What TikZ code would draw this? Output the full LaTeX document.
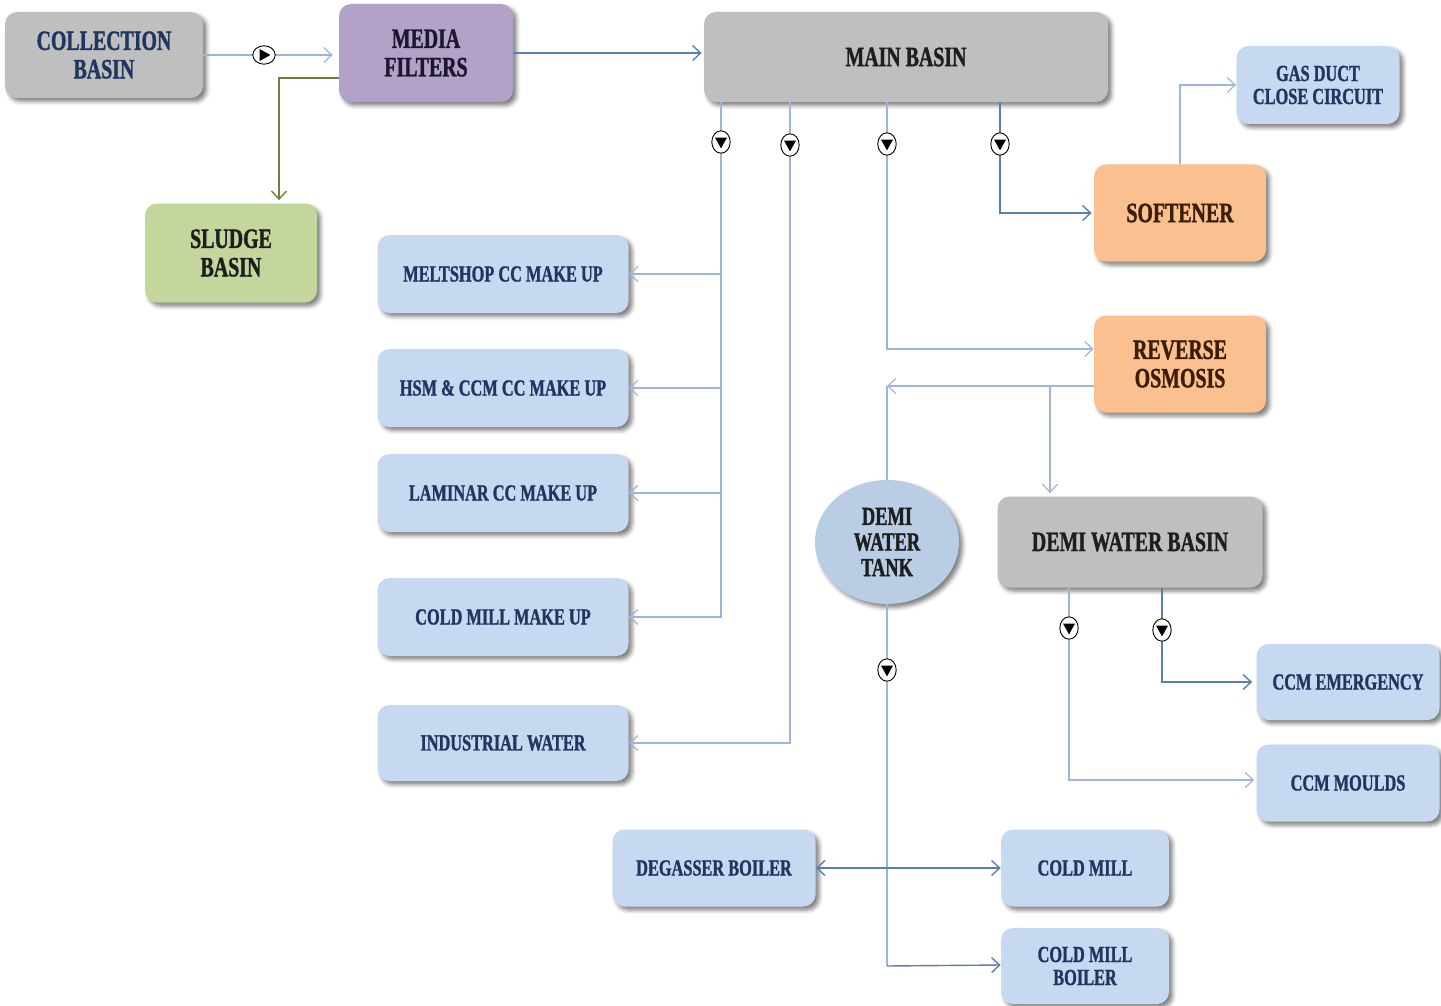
\documentclass[tikz,border=0pt]{standalone}
\usepackage{fontspec}
\setmainfont{Liberation Serif Bold}[FakeStretch=0.71, FakeBold=1.2]
\usetikzlibrary{arrows.meta,shadows.blur,shapes.geometric}
\definecolor{cgray}{HTML}{BFBFBF}
\definecolor{cpurple}{HTML}{B3A2C7}
\definecolor{cgreen}{HTML}{C3D69B}
\definecolor{corange}{HTML}{FAC090}
\definecolor{cblue}{HTML}{C6D9F1}
\definecolor{ctank}{HTML}{B9CDE5}
\definecolor{tnavy}{HTML}{1F3660}
\definecolor{tdark}{HTML}{1E1E1E}
\definecolor{tpurple}{HTML}{1C1633}
\definecolor{tbrown}{HTML}{3A1E08}
\definecolor{lnlight}{HTML}{9DB5D8}
\definecolor{lndark}{HTML}{5A7DB3}
\definecolor{lnolive}{HTML}{6E8040}
\begin{document}
\begin{tikzpicture}[x=0.5pt,y=-0.5pt,
  box/.style={rectangle, rounded corners=6pt, align=center, inner sep=2pt,
    blur shadow={shadow xshift=1.8pt, shadow yshift=-1.8pt, shadow blur radius=2pt, shadow opacity=50}},
  bigtxt/.style={font=\fontsize{14}{14.2}\selectfont},
  smalltxt/.style={font=\fontsize{11.5}{11.5}\selectfont},
  bluebox/.style={box, fill=cblue, text=tnavy, smalltxt},
  tip/.style={-{Straight Barb[length=4pt,width=7.5pt]}},
  ln/.style={draw=lnlight, line width=0.6pt},
  lnd/.style={draw=lndark, line width=0.7pt},
  valve/.pic={\draw[fill=white, line width=0.45pt] (0,0) ellipse [x radius=4.6pt, y radius=5.6pt];
              \fill[black] (-3pt,2.2pt) -- (3pt,2.2pt) -- (0,-3.2pt) -- cycle;}
]
\useasboundingbox (0,0) rectangle (1441,1006);

% nodes
\node[box, fill=cgray, text=tnavy, bigtxt, minimum width=99pt, minimum height=43pt] (coll) at (104,55) {COLLECTION\\BASIN};
\node[box, fill=cpurple, text=tpurple, bigtxt, minimum width=87pt, minimum height=49pt] (media) at (426,53) {MEDIA\\FILTERS};
\node[box, fill=cgray, text=tdark, bigtxt, minimum width=202pt, minimum height=45pt] (main) at (906,57) {MAIN BASIN};
\node[bluebox, minimum width=81.5pt, minimum height=39pt] (gas) at (1318,85) {GAS DUCT\\CLOSE CIRCUIT};
\node[box, fill=corange, text=tbrown, bigtxt, minimum width=86pt, minimum height=48.5pt] (soft) at (1180,213) {SOFTENER};
\node[box, fill=cgreen, text=tdark, bigtxt, minimum width=86pt, minimum height=49.5pt] (sludge) at (231,253) {SLUDGE\\BASIN};
\node[bluebox, minimum width=125.5pt, minimum height=39pt] (mu1) at (503,274) {MELTSHOP CC MAKE UP};
\node[bluebox, minimum width=125.5pt, minimum height=39pt] (mu2) at (503,388) {HSM \& CCM CC MAKE UP};
\node[bluebox, minimum width=125.5pt, minimum height=39pt] (mu3) at (503,493) {LAMINAR CC MAKE UP};
\node[bluebox, minimum width=125.5pt, minimum height=39pt] (mu4) at (503,617) {COLD MILL MAKE UP};
\node[bluebox, minimum width=125.5pt, minimum height=38pt] (iw) at (503,743) {INDUSTRIAL WATER};
\node[box, fill=corange, text=tbrown, bigtxt, minimum width=86pt, minimum height=48.5pt] (ro) at (1180,364) {REVERSE\\OSMOSIS};
\node[ellipse, fill=ctank, text=tdark, inner sep=0pt, align=center,
      font=\fontsize{13}{12.8}\selectfont, minimum width=72pt, minimum height=62pt,
      blur shadow={shadow xshift=1.8pt, shadow yshift=-1.8pt, shadow blur radius=2pt, shadow opacity=50}] (tank) at (887,542) {DEMI\\WATER\\TANK};
\node[box, fill=cgray, text=tdark, bigtxt, minimum width=132.5pt, minimum height=45.5pt] (demib) at (1130,542) {DEMI WATER BASIN};
\node[bluebox, minimum width=91.5pt, minimum height=38pt] (ccme) at (1348,682) {CCM EMERGENCY};
\node[bluebox, minimum width=91.5pt, minimum height=38.5pt] (ccmm) at (1348,783) {CCM MOULDS};
\node[bluebox, minimum width=101.5pt, minimum height=38.5pt] (deg) at (714,868) {DEGASSER BOILER};
\node[bluebox, minimum width=84pt, minimum height=38.5pt] (cm) at (1085,868) {COLD MILL};
\node[bluebox, minimum width=84pt, minimum height=38pt] (cmb) at (1085,966) {COLD MILL\\BOILER};

% coordinates
\coordinate (t1) at (721,102);
\coordinate (t2) at (790,102);
\coordinate (t3) at (887,102);
\coordinate (t4) at (1000,102);
\coordinate (rj) at (887,386);
\coordinate (rb) at (1050,386);
\coordinate (d1) at (1069,588);
\coordinate (d2) at (1162,588);

% connectors
\draw[ln, tip] (coll.east) -- ([xshift=-3pt]coll.east -| media.west);
\draw[lnd, tip] (media.east) -- ([xshift=-1pt]media.east -| main.west);
\draw[draw=lnolive, line width=0.7pt, tip] ([yshift=-12.5pt]media.west) -| ([xshift=24pt, yshift=1.5pt]sludge.north);

\draw[ln] (t1) |- (mu4.east);
\draw[ln, tip] (t1 |- mu1.east) -- (mu1.east);
\draw[ln, tip] (t1 |- mu2.east) -- (mu2.east);
\draw[ln, tip] (t1 |- mu3.east) -- (mu3.east);
\draw[ln, tip] ([xshift=-0.3pt]t1 |- mu4.east) -- (mu4.east);
\draw[ln, tip] (t2) |- (iw.east);
\draw[ln, tip] (t3) |- ([yshift=7.5pt]ro.west);
\draw[lnd, tip] (t4) |- ([xshift=-1pt]soft.west);
\draw[ln, tip] (soft.north) |- (gas.west);

\draw[ln, tip] ([yshift=-11pt]ro.west) -- (rj);
\draw[ln] (rj) -- (tank.north);
\draw[ln, tip] (rb) -- ([yshift=1.5pt]rb |- demib.north);

\draw[ln] (tank.south) -- (tank.south |- cmb.west);
\draw[lnd, tip] (tank.south |- cmb.west) -- ([yshift=0.5pt]cmb.west);
\draw[lnd, {Straight Barb[length=4pt,width=7.5pt]}-{Straight Barb[length=4pt,width=7.5pt]}] (deg.east) -- (cm.west);

\draw[lnd, tip] (d2) |- ([xshift=-2pt]ccme.west);
\draw[ln, tip] (d1) |- ([xshift=-1pt, yshift=1.5pt]ccmm.west);

% valves
\pic[rotate=90] at (264,55) {valve};
\pic at (721,142) {valve};
\pic at (790,145) {valve};
\pic at (887,144) {valve};
\pic at (1000,144) {valve};
\pic at (887,670) {valve};
\pic at (1069,628) {valve};
\pic at (1162,630) {valve};
\end{tikzpicture}
\end{document}
